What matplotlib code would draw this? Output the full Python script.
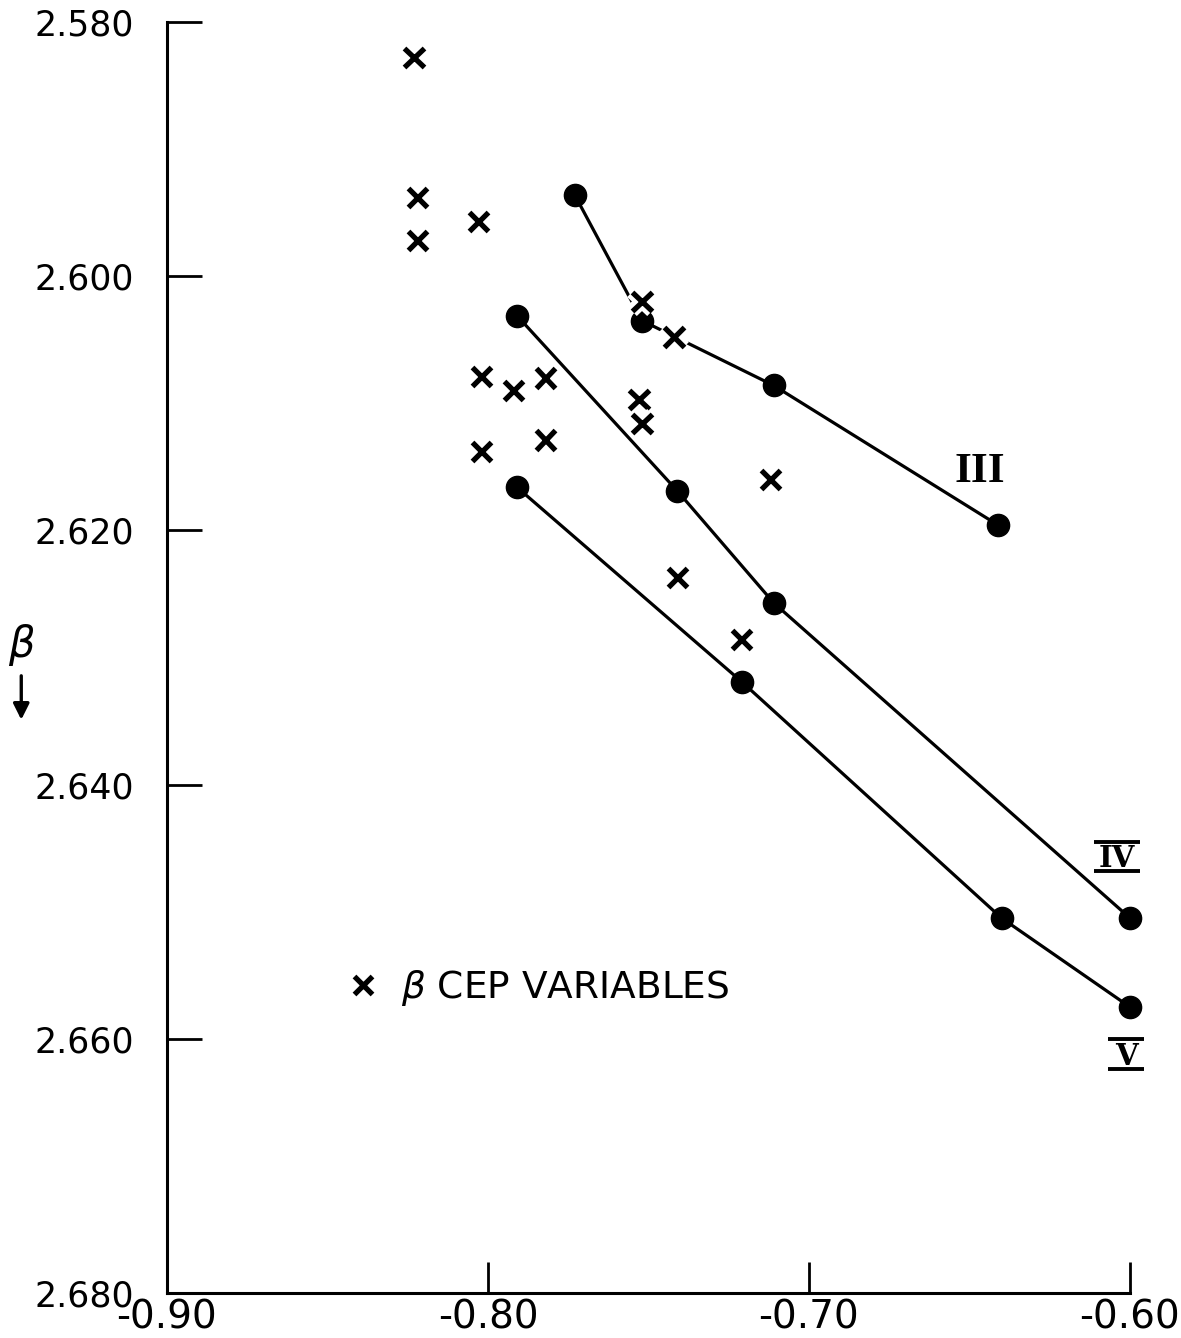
import matplotlib.pyplot as plt
import matplotlib.patheffects as pe

plt.rcParams['axes.unicode_minus'] = False

# luminosity class sequences (colour index vs beta)
seq_III_x = [-0.773, -0.752, -0.711, -0.641]
seq_III_y = [2.5936, 2.6035, 2.6086, 2.6196]
seq_IV_x = [-0.791, -0.741, -0.711, -0.600]
seq_IV_y = [2.6031, 2.6169, 2.6257, 2.6505]
seq_V_x = [-0.791, -0.721, -0.640, -0.600]
seq_V_y = [2.6166, 2.6319, 2.6505, 2.6575]

# beta Cep variables
bcep_x = [-0.823, -0.822, -0.822, -0.803, -0.752, -0.742, -0.802, -0.792,
          -0.782, -0.753, -0.752, -0.782, -0.802, -0.712, -0.741, -0.721]
bcep_y = [2.5828, 2.5938, 2.5972, 2.5957, 2.6020, 2.6048, 2.6079, 2.6090,
          2.6080, 2.6097, 2.6116, 2.6129, 2.6138, 2.6160, 2.6237, 2.6286]

x_ticks = [-0.90, -0.80, -0.70, -0.60]
x_labels = ['-0.90', '-0.80', '-0.70', '-0.60']
y_ticks = [2.580, 2.600, 2.620, 2.640, 2.660, 2.680]
y_labels = ['2.580', '2.600', '2.620', '2.640', '2.660', '2.680']

fig = plt.figure(figsize=(11.81, 13.38), dpi=100)
ax = fig.add_axes([0.1414, 0.0336, 0.8154, 0.95])

for xs, ys in [(seq_III_x, seq_III_y), (seq_IV_x, seq_IV_y), (seq_V_x, seq_V_y)]:
    ax.plot(xs, ys, '-', color='black', lw=2.3, zorder=2, clip_on=False)
    ax.plot(xs, ys, 'o', color='black', ms=16, zorder=3, clip_on=False)

halo = [pe.withStroke(linewidth=10, foreground='white')]
ax.plot(bcep_x, bcep_y, 'x', color='black', ms=14, mew=3.8,
        path_effects=halo, zorder=4, clip_on=False,
        label=r'$\beta$ CEP VARIABLES')

# class labels (roman numerals, IV and V with bars above and below)
ax.text(-0.6467, 2.6154, 'III', fontsize=31, family='Liberation Serif',
        weight='bold', ha='center', va='center')
ax.text(-0.6040, 2.64648, 'IV', fontsize=21, family='DejaVu Serif',
        weight='bold', ha='center', va='baseline')
ax.text(-0.6012, 2.66206, 'V', fontsize=21, family='DejaVu Serif',
        weight='bold', ha='center', va='baseline')
for xc, y_top, y_bot, hw in [(-0.6040, 2.64452, 2.64680, 0.0072),
                             (-0.6012, 2.66002, 2.66238, 0.0056)]:
    ax.plot([xc - hw, xc + hw], [y_top, y_top], color='black', lw=2.8,
            solid_capstyle='butt', clip_on=False)
    ax.plot([xc - hw, xc + hw], [y_bot, y_bot], color='black', lw=2.8,
            solid_capstyle='butt', clip_on=False)

ax.legend(loc='center left', bbox_to_anchor=(0.150, 0.24), frameon=False,
          fontsize=27, handlelength=0.95, handletextpad=0.55,
          markerscale=0.9)

ax.set_xlim(-0.90, -0.60)
ax.set_ylim(2.680, 2.580)
ax.set_xticks(x_ticks)
ax.set_xticklabels(x_labels, fontsize=28)
ax.set_yticks(y_ticks)
ax.set_yticklabels(y_labels, fontsize=25)
ax.tick_params(axis='x', direction='in', length=22, width=2, pad=4)
ax.tick_params(axis='y', direction='in', length=25, width=2, pad=24)
ax.spines['top'].set_visible(False)
ax.spines['right'].set_visible(False)
ax.spines['left'].set_linewidth(2.2)
ax.spines['bottom'].set_linewidth(2.2)

# axis label: beta with a downward arrow
fig.text(0.018, 0.518, r'$\beta$', fontsize=30, ha='center', va='center')
ax.annotate('', xy=(0.018, 0.460), xycoords='figure fraction',
            xytext=(0.018, 0.497), textcoords='figure fraction',
            arrowprops=dict(arrowstyle='-|>', color='black', lw=2.4,
                            mutation_scale=24))

fig.savefig('out.png', dpi=100)
